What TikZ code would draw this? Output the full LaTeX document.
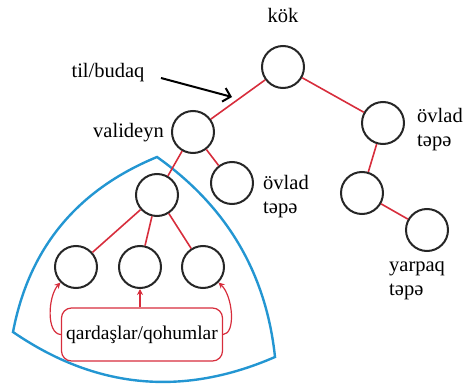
\documentclass[tikz,border=0pt]{standalone}
\usepackage{fontspec}
\setmainfont{Liberation Serif}
\usetikzlibrary{arrows.meta}
\definecolor{edgered}{RGB}{215,45,60}
\definecolor{hullblue}{RGB}{35,150,210}
\begin{document}
\begin{tikzpicture}[x=1pt,y=-1pt,
  vertex/.style={circle,draw=black!85,line width=2pt,fill=white,minimum size=42pt,inner sep=0pt},
  edge/.style={draw=edgered,line width=1.6pt},
  lbl/.style={font=\fontsize{20.5}{24}\selectfont,align=left,inner sep=0pt},
  hull/.style={draw=hullblue,line width=2.4pt},
  redarrow/.style={draw=edgered,line width=1.2pt,-{Stealth[length=6pt,width=6pt]}},
  pointer/.style={draw=black,line width=2pt,-{Straight Barb[length=7pt,width=14pt]}}]
\useasboundingbox (0,0) rectangle (474,385);
% blue subtree outline
\draw[hull] (157,157) .. controls (77,190) and (29,248) .. (13,332)
  .. controls (96,389) and (183,397) .. (275,357)
  .. controls (266,272) and (226,206) .. cycle;
% vertices
\node[vertex] (r) at (283,67) {};
\node[vertex] (p) at (193,132) {};
\node[vertex] (c1) at (383,123) {};
\node[vertex] (p2) at (232,183) {};
\node[vertex] (s) at (157,195) {};
\node[vertex] (c2) at (362,193) {};
\node[vertex] (leaf) at (427,230) {};
\node[vertex] (b1) at (76,267) {};
\node[vertex] (b2) at (140,267) {};
\node[vertex] (b3) at (203,267) {};
% edges
\draw[edge] (r) -- (p);
\draw[edge] (r) -- (c1);
\draw[edge] (p) -- (s);
\draw[edge] (p) -- (p2);
\draw[edge] (c1) -- (c2);
\draw[edge] (c2) -- (leaf);
\draw[edge] (s) -- (b1);
\draw[edge] (s) -- (b2);
\draw[edge] (s) -- (b3);
% labels
\node[lbl] (kok) at (283,15) {kök};
\node[lbl] (til) at (108,73) {til/budaq};
\node[lbl,anchor=east] (val) at (164,133) {valideyn};
\node[lbl,anchor=west] (ov1) at (417,130) {övlad\\təpə};
\node[lbl,anchor=west] (ov2) at (263,197) {övlad\\təpə};
\node[lbl,anchor=west] (yp) at (389,281) {yarpaq\\təpə};
\coordinate (ta) at (161,78);
\coordinate (tb) at (232,97);
\draw[pointer] (ta) -- (tb);
% siblings box
\node[draw=edgered,line width=1.2pt,rounded corners=10pt,minimum width=161pt,minimum height=53pt,inner sep=0pt,font=\fontsize{19.5}{22}\selectfont] (q) at (142,334.5) {qardaşlar/qohumlar};
\draw[redarrow] (q.north -| b2) -- (b2);
\draw[redarrow] (q.west) .. controls (46,334) and (48,296) .. (b1.225);
\draw[redarrow] (q.east) .. controls (236,334) and (233,296) .. (b3.-45);
\end{tikzpicture}
\end{document}
